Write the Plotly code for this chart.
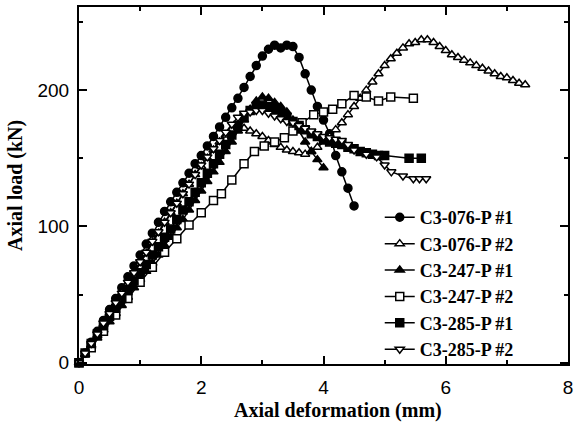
import plotly.graph_objects as go

# ---- data ----
x_076_1 = [0, 0.1, 0.2, 0.3, 0.4, 0.5, 0.6, 0.7, 0.8, 0.9, 1.0, 1.1, 1.2, 1.3, 1.4, 1.5, 1.6, 1.7, 1.8, 1.9,
           2.0, 2.1, 2.2, 2.3, 2.4, 2.5, 2.6, 2.7, 2.8, 2.9, 3.0, 3.1, 3.2, 3.3, 3.4, 3.5, 3.6, 3.7, 3.8, 3.9,
           4.0, 4.1, 4.2, 4.3, 4.4, 4.5]
y_076_1 = [0, 7, 15, 23, 31, 39, 47, 55, 63, 71, 79, 87, 95, 103, 111, 118, 125, 132, 139, 146,
           152, 159, 166, 173, 180, 187, 194, 202, 210, 218, 225, 230, 233, 231, 233, 232, 224, 212, 200, 188,
           178, 168, 152, 140, 128, 115]

x_076_2 = [0, 0.1, 0.2, 0.3, 0.4, 0.5, 0.6, 0.7, 0.8, 0.9, 1.0, 1.1, 1.2, 1.3, 1.4, 1.5, 1.6, 1.7, 1.8, 1.9,
           2.0, 2.1, 2.2, 2.3, 2.4, 2.5, 2.6, 2.7, 2.8, 2.9, 3.0, 3.1, 3.2, 3.3, 3.4, 3.5, 3.6, 3.7, 3.8, 3.9,
           4.0, 4.1, 4.2, 4.3, 4.4, 4.5, 4.6, 4.7, 4.8, 4.9, 5.0, 5.1, 5.2, 5.3, 5.4, 5.5, 5.6, 5.7, 5.8, 5.9,
           6.0, 6.1, 6.2, 6.3, 6.4, 6.5, 6.6, 6.7, 6.8, 6.9, 7.0, 7.1, 7.2, 7.3]
y_076_2 = [0, 6, 13, 20, 28, 36, 43, 51, 58, 66, 73, 80, 88, 95, 103, 110, 117, 124, 131, 138,
           144, 150, 156, 162, 167, 171, 173, 172, 170, 168, 166, 163, 160, 158, 156, 155, 154, 153, 155, 158,
           162, 166, 171, 176, 182, 188, 194, 200, 206, 212, 218, 223, 227, 231, 234, 235, 237, 237, 235, 232,
           229, 226, 224, 222, 220, 218, 216, 214, 212, 210, 209, 207, 205, 204]

x_247_1 = [0, 0.1, 0.2, 0.3, 0.4, 0.5, 0.6, 0.7, 0.8, 0.9, 1.0, 1.1, 1.2, 1.3, 1.4, 1.5, 1.6, 1.7, 1.8, 1.9,
           2.0, 2.1, 2.2, 2.3, 2.4, 2.5, 2.6, 2.7, 2.8, 2.9, 3.0, 3.1, 3.2, 3.3, 3.4, 3.5, 3.6, 3.7, 3.8, 3.9, 4.0]
y_247_1 = [0, 6, 12, 18, 24, 30, 36, 42, 48, 55, 61, 67, 73, 79, 86, 92, 99, 105, 112, 119,
           126, 133, 140, 147, 155, 162, 170, 178, 186, 192, 195, 194, 191, 188, 184, 178, 170, 162, 155, 149, 143]

x_247_2 = [0, 0.2, 0.4, 0.6, 0.8, 1.0, 1.2, 1.4, 1.6, 1.8, 2.0, 2.2, 2.33, 2.5, 2.7, 2.87, 3.03, 3.2, 3.36,
           3.5, 3.65, 3.84, 4.0, 4.15, 4.3, 4.5, 4.7, 4.9, 5.1, 5.47]
y_247_2 = [0, 11, 23, 35, 47, 59, 70, 81, 91, 101, 110, 119, 124, 134, 146, 155, 159, 162, 165,
           170, 176, 182, 184, 186, 190, 196, 195, 192, 195, 194]

x_285_1 = [0, 0.1, 0.2, 0.3, 0.4, 0.5, 0.6, 0.7, 0.8, 0.9, 1.0, 1.1, 1.2, 1.3, 1.4, 1.5, 1.6, 1.7, 1.8, 1.9,
           2.0, 2.1, 2.2, 2.3, 2.4, 2.5, 2.6, 2.7, 2.8, 2.9, 3.0, 3.1, 3.2, 3.3, 3.4, 3.5, 3.6, 3.7, 3.8, 3.9,
           4.0, 4.1, 4.2, 4.3, 4.4, 4.5, 4.6, 4.7, 4.8, 4.9, 5.0, 5.4, 5.6]
y_285_1 = [0, 7, 14, 21, 27, 34, 40, 47, 53, 60, 66, 72, 79, 85, 92, 98, 105, 112, 118, 125,
           132, 139, 146, 153, 160, 167, 174, 180, 185, 188, 189, 188, 186, 183, 180, 177, 174, 171, 168, 166,
           164, 162, 161, 160, 158, 157, 155, 154, 153, 152, 152, 150, 150]

x_285_2 = [0, 0.1, 0.2, 0.3, 0.4, 0.5, 0.6, 0.7, 0.8, 0.9, 1.0, 1.1, 1.2, 1.3, 1.4, 1.5, 1.6, 1.7, 1.8, 1.9,
           2.0, 2.1, 2.2, 2.3, 2.4, 2.5, 2.6, 2.7, 2.8, 2.9, 3.0, 3.1, 3.2, 3.3, 3.4, 3.5, 3.6, 3.7, 3.8, 3.9,
           4.0, 4.1, 4.2, 4.3, 4.4, 4.5, 4.7, 4.87, 5.0, 5.11, 5.3, 5.47, 5.57, 5.68]
y_285_2 = [0, 7, 14, 21, 29, 36, 44, 51, 59, 66, 74, 81, 89, 96, 103, 110, 117, 124, 131, 138,
           145, 151, 157, 163, 169, 175, 180, 183, 184, 185, 185, 183, 181, 179, 177, 176, 174, 172, 170, 168,
           166, 165, 164, 163, 160, 156, 153, 151, 145, 140, 137, 135, 135, 135]

names = ["C3-076-P #1", "C3-076-P #2", "C3-247-P #1", "C3-247-P #2", "C3-285-P #1", "C3-285-P #2"]
x_ticks = [0, 2, 4, 6, 8]
y_ticks = [0, 100, 200]

series = [
    (x_076_1, y_076_1, "circle", "black"),
    (x_076_2, y_076_2, "triangle-up", "white"),
    (x_247_1, y_247_1, "triangle-up", "black"),
    (x_247_2, y_247_2, "square", "white"),
    (x_285_1, y_285_1, "square", "black"),
    (x_285_2, y_285_2, "triangle-down", "white"),
]

fig = go.Figure()
for (xs, ys, sym, fill), nm in zip(series, names):
    fig.add_trace(go.Scatter(
        x=xs, y=ys, name=nm, mode="lines+markers",
        line=dict(color="black", width=1.5),
        marker=dict(symbol=sym, size=8, color=fill, line=dict(color="black", width=1.5)),
        cliponaxis=False,
    ))

axis_common = dict(
    showline=True, linecolor="black", linewidth=2, mirror="allticks",
    ticks="inside", ticklen=8, tickwidth=1.5, tickcolor="black",
    showgrid=False, zeroline=False, automargin=False,
    ticklabeloverflow="allow",
    tickfont=dict(family="Liberation Sans", size=19, color="black"),
    minor=dict(ticks="inside", ticklen=4, tickwidth=1.5, tickcolor="black"),
)

fig.update_xaxes(range=[0, 8], tickvals=x_ticks, minor_dtick=1, ticklabelstandoff=5, **axis_common)
fig.update_yaxes(range=[-1, 261], tickvals=y_ticks, minor_dtick=50, ticklabelstandoff=4, **axis_common)

fig.update_layout(
    width=576, height=429,
    margin=dict(l=79, r=8, t=7, b=65, autoexpand=False),
    plot_bgcolor="white", paper_bgcolor="white",
    showlegend=True,
    legend=dict(
        x=0.615, y=0.462, xanchor="left", yanchor="top",
        bgcolor="rgba(0,0,0,0)", borderwidth=0,
        font=dict(family="Liberation Serif", size=18, color="black", weight="bold"),
        itemwidth=30, tracegroupgap=0,
    ),
    annotations=[
        dict(text="<b>Axial deformation (mm)</b>", xref="paper", yref="paper",
             x=0.53, y=-0.13, xanchor="center", yanchor="middle", showarrow=False,
             font=dict(family="Liberation Serif", size=20, color="black")),
        dict(text="<b>Axial load (kN)</b>", xref="paper", yref="paper",
             x=-0.13, y=0.5, xanchor="center", yanchor="middle", showarrow=False, textangle=-90,
             font=dict(family="Liberation Serif", size=20, color="black")),
    ],
)

fig.write_html("out.html", config={"displayModeBar": False},
               post_script="document.body.style.margin='0';")
